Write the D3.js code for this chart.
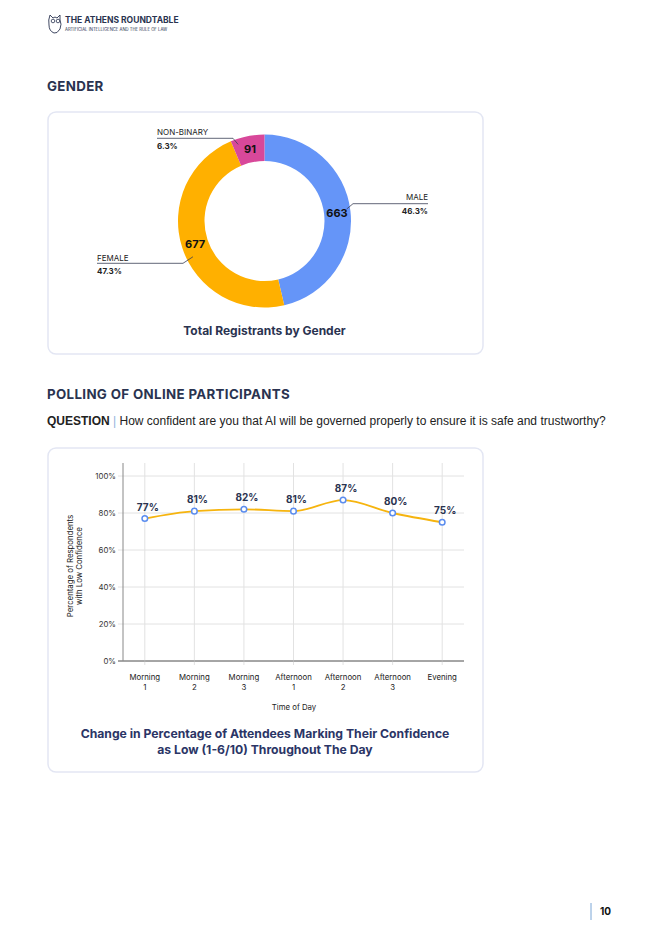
<!DOCTYPE html>
<html><head><meta charset="utf-8">
<script src="https://cdn.jsdelivr.net/npm/d3@7"></script>
<style>
html,body{margin:0;padding:0;background:#fff;}
svg{display:block;}
</style></head>
<body>
<svg id="page" width="662" height="936"></svg>
<script>
// ---- data ----
const genderCategories = ["MALE", "FEMALE", "NON-BINARY"];
const genderValues = [663, 677, 91];
const genderPercents = ["46.3%", "47.3%", "6.3%"];
const genderColors = ["#6595f8", "#ffb000", "#d8489a"];

const timeCategories = [["Morning","1"],["Morning","2"],["Morning","3"],["Afternoon","1"],["Afternoon","2"],["Afternoon","3"],["Evening",""]];
const lowConfidence = [77, 81, 82, 81, 87, 80, 75];
const yTicks = [0, 20, 40, 60, 80, 100];

const navy = "#2a3350";
const headFont = "Inter, 'Open Sans', sans-serif";
const bodyFont = "'Liberation Sans', Arial, sans-serif";

const svg = d3.select("#page");

// ---- header ----
const logo = svg.append("g").attr("transform","translate(47,12)");
logo.append("path").attr("d","M3,3 L6,6 Q8,4 10,6 L13,3 L13,8 Q15,12 13,17 Q10,22 7,21 Q2,19 2,13 Q1,8 3,3 Z")
  .attr("fill","none").attr("stroke",navy).attr("stroke-width",0.9);
logo.append("circle").attr("cx",6).attr("cy",9).attr("r",1.8).attr("fill","none").attr("stroke",navy).attr("stroke-width",0.8);
logo.append("circle").attr("cx",11).attr("cy",9).attr("r",1.8).attr("fill","none").attr("stroke",navy).attr("stroke-width",0.8);
svg.append("text").attr("x",65).attr("y",23).text("THE ATHENS ROUNDTABLE")
  .attr("font-family",headFont).attr("font-weight",700).attr("font-size",8.5).attr("fill",navy);
svg.append("text").attr("x",65).attr("y",30.5).text("ARTIFICIAL INTELLIGENCE AND THE RULE OF LAW")
  .attr("font-family",headFont).attr("font-size",4.2).attr("fill",navy);

// ---- section titles ----
svg.append("text").attr("x",47).attr("y",91).text("GENDER")
  .attr("font-family",headFont).attr("font-weight",700).attr("font-size",13.3).attr("letter-spacing",0.35).attr("fill",navy);
svg.append("text").attr("x",47).attr("y",398.5).text("POLLING OF ONLINE PARTICIPANTS")
  .attr("font-family",headFont).attr("font-weight",700).attr("font-size",13.3).attr("letter-spacing",0.35).attr("fill",navy);
const q = svg.append("text").attr("x",47).attr("y",425).attr("font-family",bodyFont).attr("font-size",12).attr("fill","#222");
q.append("tspan").text("QUESTION").attr("font-weight",700);
q.append("tspan").text(" | ").attr("fill","#8fb3dd");
q.append("tspan").text("How confident are you that AI will be governed properly to ensure it is safe and trustworthy?");

// ---- cards ----
[[48,112,435,242],[48,448,435,324]].forEach(([x,y,w,h])=>{
  svg.append("rect").attr("x",x).attr("y",y).attr("width",w).attr("height",h).attr("rx",8)
    .attr("fill","#fff").attr("stroke","#e3e6f3").attr("stroke-width",1.5);
});

// ---- donut ----
const cx = 264.5, cy = 221, rOut = 86.5, rIn = 60;
const pie = d3.pie().sort(null).value(d=>d)(genderValues);
const arc = d3.arc().innerRadius(rIn).outerRadius(rOut);
const dg = svg.append("g").attr("transform",`translate(${cx},${cy})`);
dg.selectAll("path").data(pie).join("path").attr("d",arc).attr("fill",(d,i)=>genderColors[i]);
const labelArc = d3.arc().innerRadius(73).outerRadius(73);
dg.selectAll("text.v").data(pie).join("text").attr("class","v")
  .attr("transform",d=>{const c=labelArc.centroid(d);return `translate(${c[0]},${c[1]+4})`;})
  .attr("text-anchor","middle").attr("font-family",headFont).attr("font-weight",700).attr("font-size",11)
  .attr("fill","#111").text(d=>d.data);

// leader lines and callout labels
const callouts = [
  {i:0, angleFrac:0.49, r:83, bendX:353, y:203.7, endX:428, anchor:"end", ty:-3.7, py:10.5},
  {i:1, angleFrac:0.45, r:80, bendX:183, y:263.3, endX:97,  anchor:"start", ty:-2.5, py:11},
  {i:2, angleFrac:0.17, r:81, bendX:233, y:138.3, endX:157, anchor:"start", ty:-3.5, py:10.5}
];
callouts.forEach(c=>{
  const d = pie[c.i];
  const a = d.startAngle + (d.endAngle-d.startAngle)*c.angleFrac;
  const sx = cx + c.r*Math.sin(a), sy = cy - c.r*Math.cos(a);
  svg.append("polyline").attr("points",`${sx},${sy} ${c.bendX},${c.y} ${c.endX},${c.y}`)
    .attr("fill","none").attr("stroke","#3a3f55").attr("stroke-width",0.8);
  svg.append("text").attr("x",c.endX).attr("y",c.y+c.ty).attr("text-anchor",c.anchor)
    .attr("font-family",headFont).attr("font-size",8).attr("fill","#222").text(genderCategories[c.i]);
  svg.append("text").attr("x",c.endX).attr("y",c.y+c.py).attr("text-anchor",c.anchor)
    .attr("font-family",headFont).attr("font-weight",700).attr("font-size",8).attr("fill","#222").text(genderPercents[c.i]);
});
svg.append("text").attr("x",264.5).attr("y",335).attr("text-anchor","middle")
  .attr("font-family",headFont).attr("font-weight",700).attr("font-size",12).attr("fill",navy)
  .text("Total Registrants by Gender");

// ---- line chart ----
const x = d3.scalePoint().domain(d3.range(timeCategories.length)).range([123,464]).padding(0.44);
const y = d3.scaleLinear().domain([0,100]).range([661,476]);
const lg = svg.append("g");
lg.selectAll("line.h").data(yTicks).join("line").attr("class","h")
  .attr("x1",118).attr("x2",464).attr("y1",d=>y(d)).attr("y2",d=>y(d))
  .attr("stroke",d=>d===0?"#888":"#e2e2e2").attr("stroke-width",1);
lg.selectAll("line.v").data(timeCategories).join("line").attr("class","v")
  .attr("x1",(d,i)=>x(i)).attr("x2",(d,i)=>x(i)).attr("y1",463).attr("y2",665)
  .attr("stroke","#e2e2e2").attr("stroke-width",1);
lg.append("line").attr("x1",123).attr("x2",123).attr("y1",463).attr("y2",661).attr("stroke","#888");
lg.append("line").attr("x1",118).attr("x2",464).attr("y1",y(0)).attr("y2",y(0)).attr("stroke","#888");
lg.selectAll("text.yt").data(yTicks).join("text").attr("class","yt")
  .attr("x",116).attr("y",d=>y(d)+3).attr("text-anchor","end")
  .attr("font-family",headFont).attr("font-size",7.8).attr("fill","#333").text(d=>d+"%");
timeCategories.forEach((c,i)=>{
  const t = lg.append("text").attr("text-anchor","middle").attr("font-family",headFont).attr("font-size",7.8).attr("fill","#222");
  t.append("tspan").attr("x",x(i)).attr("y",680).text(c[0]);
  if (c[1]) t.append("tspan").attr("x",x(i)).attr("y",690).text(c[1]);
});
lg.append("text").attr("x",294).attr("y",710).attr("text-anchor","middle")
  .attr("font-family",headFont).attr("font-size",7.8).attr("fill","#222").text("Time of Day");
const yt = lg.append("text").attr("transform","translate(73,566) rotate(-90)").attr("text-anchor","middle")
  .attr("font-family",headFont).attr("font-size",7.8).attr("fill","#222");
yt.append("tspan").attr("x",0).attr("y",0).text("Percentage of Respondents");
yt.append("tspan").attr("x",0).attr("y",9).text("with Low Confidence");
const line = d3.line().x((d,i)=>x(i)).y(d=>y(d)).curve(d3.curveMonotoneX);
lg.append("path").attr("d",line(lowConfidence)).attr("fill","none").attr("stroke","#f6b40e").attr("stroke-width",1.8);
lg.selectAll("circle").data(lowConfidence).join("circle")
  .attr("cx",(d,i)=>x(i)).attr("cy",d=>y(d)).attr("r",2.8)
  .attr("fill","#fff").attr("stroke","#5b8def").attr("stroke-width",1.5);
lg.selectAll("text.dl").data(lowConfidence).join("text").attr("class","dl")
  .attr("x",(d,i)=>x(i)+3).attr("y",d=>y(d)-8).attr("text-anchor","middle")
  .attr("font-family",headFont).attr("font-weight",700).attr("font-size",10).attr("fill",navy).text(d=>d+"%");
const ct = svg.append("text").attr("text-anchor","middle").attr("font-family",headFont).attr("font-weight",700)
  .attr("font-size",12.2).attr("fill","#2b3566");
ct.append("tspan").attr("x",265).attr("y",738).text("Change in Percentage of Attendees Marking Their Confidence");
ct.append("tspan").attr("x",265).attr("y",754).text("as Low (1-6/10) Throughout The Day");

// ---- footer ----
svg.append("line").attr("x1",591).attr("x2",591).attr("y1",903).attr("y2",920).attr("stroke","#7aa6d6").attr("stroke-width",1);
svg.append("text").attr("x",600).attr("y",915).text("10")
  .attr("font-family",headFont).attr("font-weight",700).attr("font-size",10).attr("fill","#111");
</script>
</body></html>
